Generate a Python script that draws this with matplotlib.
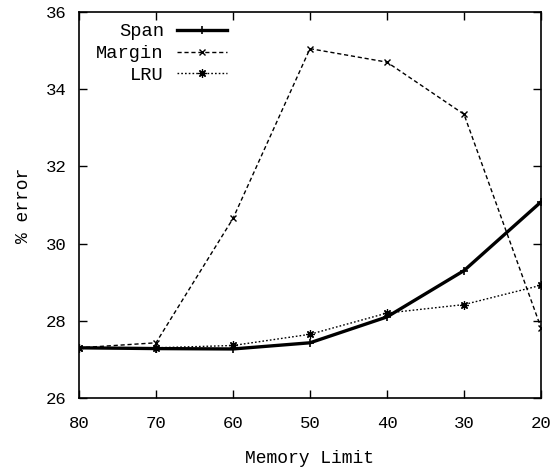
import matplotlib
matplotlib.use("Agg")
from matplotlib import pyplot as plt

memory = [80, 70, 60, 50, 40, 30, 20]
span = [27.3, 27.28, 27.27, 27.43, 28.1, 29.3, 31.08]
margin = [27.3, 27.43, 30.65, 35.05, 34.7, 33.35, 27.82]
lru = [27.3, 27.3, 27.36, 27.65, 28.2, 28.42, 28.92]

plt.rcParams['font.family'] = ['Liberation Mono', 'DejaVu Sans Mono']

fig = plt.figure(figsize=(5.57, 4.68), dpi=100)
ax = fig.add_axes([0.1418, 0.1496, 0.8295, 0.8248])

ax.plot(memory, span, color='black', lw=2.4, marker='+', ms=6, mew=1.2, label='Span')
ax.plot(memory, margin, color='black', lw=1.0, ls=(0, (3, 2)), marker='x', ms=5, mew=1.0, label='Margin')
ax.plot(memory, lru, color='black', lw=1.0, ls=(0, (1.2, 1.5)), marker=(8, 2, 0), ms=6, mew=0.9, label='LRU')

ax.set_xlim(80, 20)
ax.set_ylim(26, 36)
ax.set_xticks(memory)
ax.set_yticks([26, 28, 30, 32, 34, 36])
ax.tick_params(direction='in', top=True, right=True, length=6, width=1, labelsize=12.5)
ax.tick_params(axis='x', pad=13)
ax.tick_params(axis='y', pad=9)
for s in ax.spines.values():
    s.set_linewidth(1.2)

ax.set_xlabel('Memory Limit', fontsize=13, labelpad=14)
ax.set_ylabel('% error', fontsize=13, labelpad=10)

ax.legend(loc='upper left', bbox_to_anchor=(0.013, 1.0), frameon=False, markerfirst=False,
          fontsize=13.5, handlelength=2.7, handletextpad=0.7, labelspacing=0.25, borderaxespad=0.2)

fig.savefig('out.png', dpi=100)
